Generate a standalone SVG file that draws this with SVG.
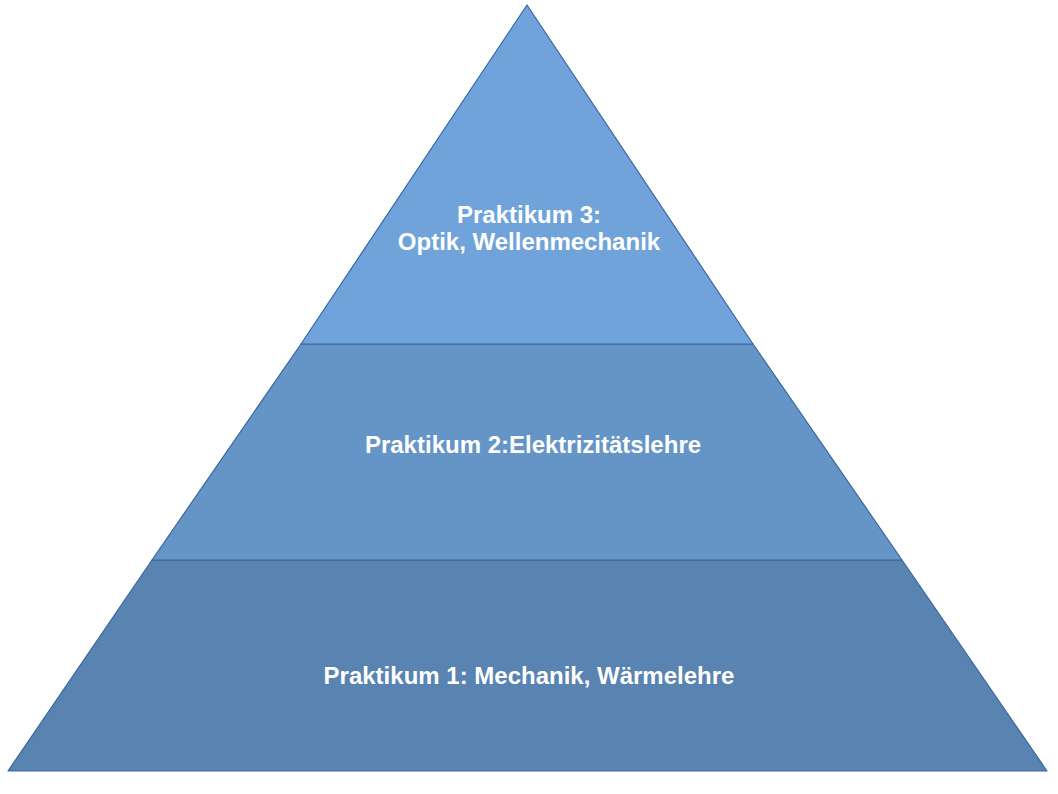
<svg xmlns="http://www.w3.org/2000/svg" width="1058" height="794" viewBox="0 0 1058 794">
<style>
.layer{stroke:#3a67a0;stroke-width:1.2;stroke-linejoin:round}
.lbl{font-family:"Liberation Sans",Arial,sans-serif;font-weight:bold;font-size:24px;fill:#ffffff;text-anchor:middle}
</style>
<rect width="1058" height="794" fill="#ffffff"/>
<g id="layer1">
<polygon class="layer" fill="#5983b0" points="152,560 902,560 1047,771 8,771"/>
<text class="lbl" x="529" y="683.5">Praktikum 1: Mechanik, Wärmelehre</text>
</g>
<g id="layer2">
<polygon class="layer" fill="#6594c6" points="301,344 753,344 902,560 152,560"/>
<text class="lbl" x="533" y="452.5">Praktikum 2:Elektrizitätslehre</text>
</g>
<g id="layer3">
<polygon class="layer" fill="#6fa3d9" points="527,5 753,344 301,344"/>
<text class="lbl" x="529" y="223">Praktikum 3:</text>
<text class="lbl" x="529" y="250">Optik, Wellenmechanik</text>
</g>
<g id="connectors"/>
</svg>
